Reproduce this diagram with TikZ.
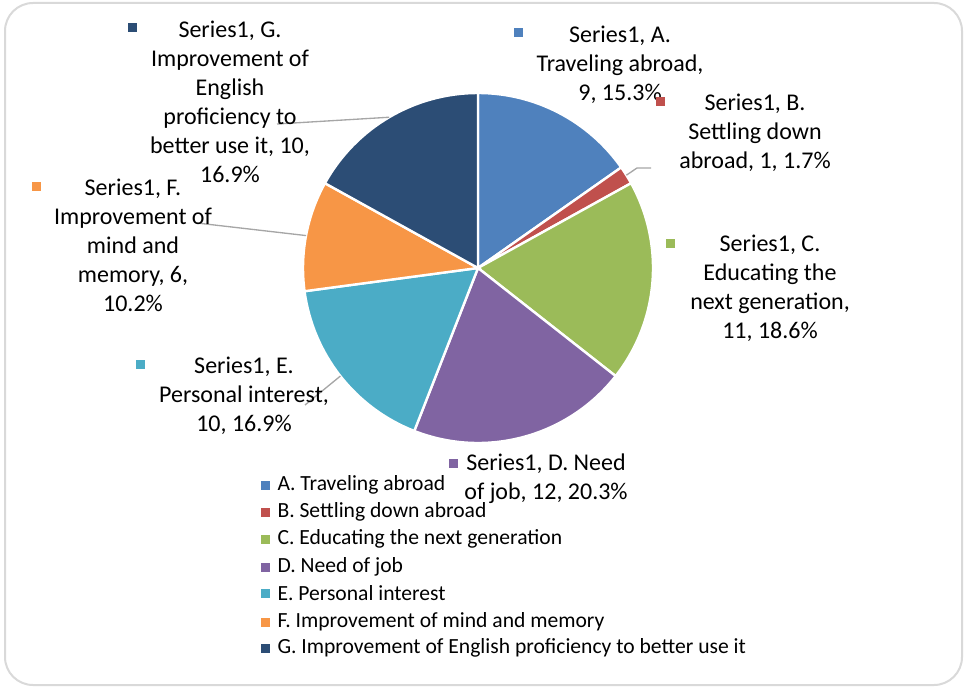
\documentclass[tikz,border=0pt]{standalone}
\usepackage{fontspec}
\setmainfont{Carlito}
\usepackage{tikz}
\usetikzlibrary{positioning,calc}

\definecolor{sliceA}{HTML}{4F81BD}
\definecolor{sliceB}{HTML}{C0504D}
\definecolor{sliceC}{HTML}{9BBB59}
\definecolor{sliceD}{HTML}{8064A2}
\definecolor{sliceE}{HTML}{4BACC6}
\definecolor{sliceF}{HTML}{F79646}
\definecolor{sliceG}{HTML}{2C4D75}
\definecolor{frameGray}{HTML}{D9D9D9}
\definecolor{leaderGray}{HTML}{A6A6A6}

\tikzset{
    slice/.style={draw=white, line width=1.8pt},
    lbl/.style={align=center, inner sep=0pt, font=\fontsize{18}{21.75}\selectfont},
    key/.style={rectangle, inner sep=0pt, minimum size=6.75pt},
    lgd/.style={anchor=west, inner sep=0pt, font=\fontsize{16.2}{19}\selectfont},
    leader/.style={draw=leaderGray, line width=1pt},
}

\begin{document}
\begin{tikzpicture}[x=0.75pt, y=0.75pt]

    % page and chart frame
    \useasboundingbox (0,0) rectangle (967,687);
    \draw[frameGray, line width=1.5pt, rounded corners=21pt] (5,2) rectangle (962,684);

    % pie centre
    \coordinate (ctr) at (478,419);

    % slices, clockwise from the top
    \filldraw[slice, fill=sliceA] (ctr) -- ++(90:175) arc[start angle=90, end angle=35.085, radius=175] -- cycle;
    \filldraw[slice, fill=sliceB] (ctr) -- ++(35.085:175) arc[start angle=35.085, end angle=28.983, radius=175] -- cycle;
    \filldraw[slice, fill=sliceC] (ctr) -- ++(28.983:175) arc[start angle=28.983, end angle=-38.136, radius=175] -- cycle;
    \filldraw[slice, fill=sliceD] (ctr) -- ++(-38.136:175) arc[start angle=-38.136, end angle=-111.356, radius=175] -- cycle;
    \filldraw[slice, fill=sliceE] (ctr) -- ++(-111.356:175) arc[start angle=-111.356, end angle=-172.373, radius=175] -- cycle;
    \filldraw[slice, fill=sliceF] (ctr) -- ++(-172.373:175) arc[start angle=-172.373, end angle=-208.983, radius=175] -- cycle;
    \filldraw[slice, fill=sliceG] (ctr) -- ++(-208.983:175) arc[start angle=-208.983, end angle=-270, radius=175] -- cycle;

    % leader line ends on the rim
    \coordinate (rimB) at ($(ctr)+(32.03:175)$);
    \coordinate (rimE) at ($(ctr)+(-141.86:175)$);
    \coordinate (rimF) at ($(ctr)+(-190.68:175)$);
    \coordinate (rimG) at ($(ctr)+(-239.49:175)$);
    \coordinate (bendB) at (637,519);
    \coordinate (tailB) at (651,519);
    \coordinate (tailE) at (305,282);
    \coordinate (tailF) at (197,464);
    \coordinate (tailG) at (277,563);

    % leader lines
    \draw[leader] (rimB) -- (bendB) -- (tailB);
    \draw[leader] (rimE) -- (tailE);
    \draw[leader] (rimF) -- (tailF);
    \draw[leader] (rimG) -- (tailG);

    % data labels
    \node[key, fill=sliceA] (keyA) at (518,654) {};
    \node[lbl] (labA) at (620,622) {Series1, A.\\Traveling abroad,\\9, 15.3\%};

    \node[key, fill=sliceB] (keyB) at (660,585) {};
    \node[lbl] (labB) at (755,554) {Series1, B.\\Settling down\\abroad, 1, 1.7\%};

    \node[key, fill=sliceC] (keyC) at (670,444) {};
    \node[lbl] (labC) at (770,399) {Series1, C.\\Educating the\\next generation,\\11, 18.6\%};

    \node[key, fill=sliceD] (keyD) at (453,224) {};
    \node[lbl] (labD) at (546,208) {Series1, D. Need\\of job, 12, 20.3\%};

    \node[key, fill=sliceE] (keyE) at (140,323) {};
    \node[lbl] (labE) at (244,291) {Series1, E.\\Personal interest,\\10, 16.9\%};

    \node[key, fill=sliceF] (keyF) at (36,501) {};
    \node[lbl] (labF) at (133,442) {Series1, F.\\Improvement of\\mind and\\memory, 6,\\10.2\%};

    \node[key, fill=sliceG] (keyG) at (132,659) {};
    \node[lbl] (labG) at (230,585) {Series1, G.\\Improvement of\\English\\proficiency to\\better use it, 10,\\16.9\%};

    % legend
    \node[key, fill=sliceA] (lkA) at (265,202) {};
    \node[lgd, right=5.6pt of lkA] {A. Traveling abroad};
    \node[key, fill=sliceB] (lkB) at (265,175) {};
    \node[lgd, right=5.6pt of lkB] {B. Settling down abroad};
    \node[key, fill=sliceC] (lkC) at (265,148) {};
    \node[lgd, right=5.6pt of lkC] {C. Educating the next generation};
    \node[key, fill=sliceD] (lkD) at (265,120) {};
    \node[lgd, right=5.6pt of lkD] {D. Need of job};
    \node[key, fill=sliceE] (lkE) at (265,94) {};
    \node[lgd, right=5.6pt of lkE] {E. Personal interest};
    \node[key, fill=sliceF] (lkF) at (265,65) {};
    \node[lgd, right=5.6pt of lkF] {F. Improvement of mind and memory};
    \node[key, fill=sliceG] (lkG) at (265,39) {};
    \node[lgd, right=5.6pt of lkG] {G. Improvement of English proficiency to better use it};

\end{tikzpicture}
\end{document}
